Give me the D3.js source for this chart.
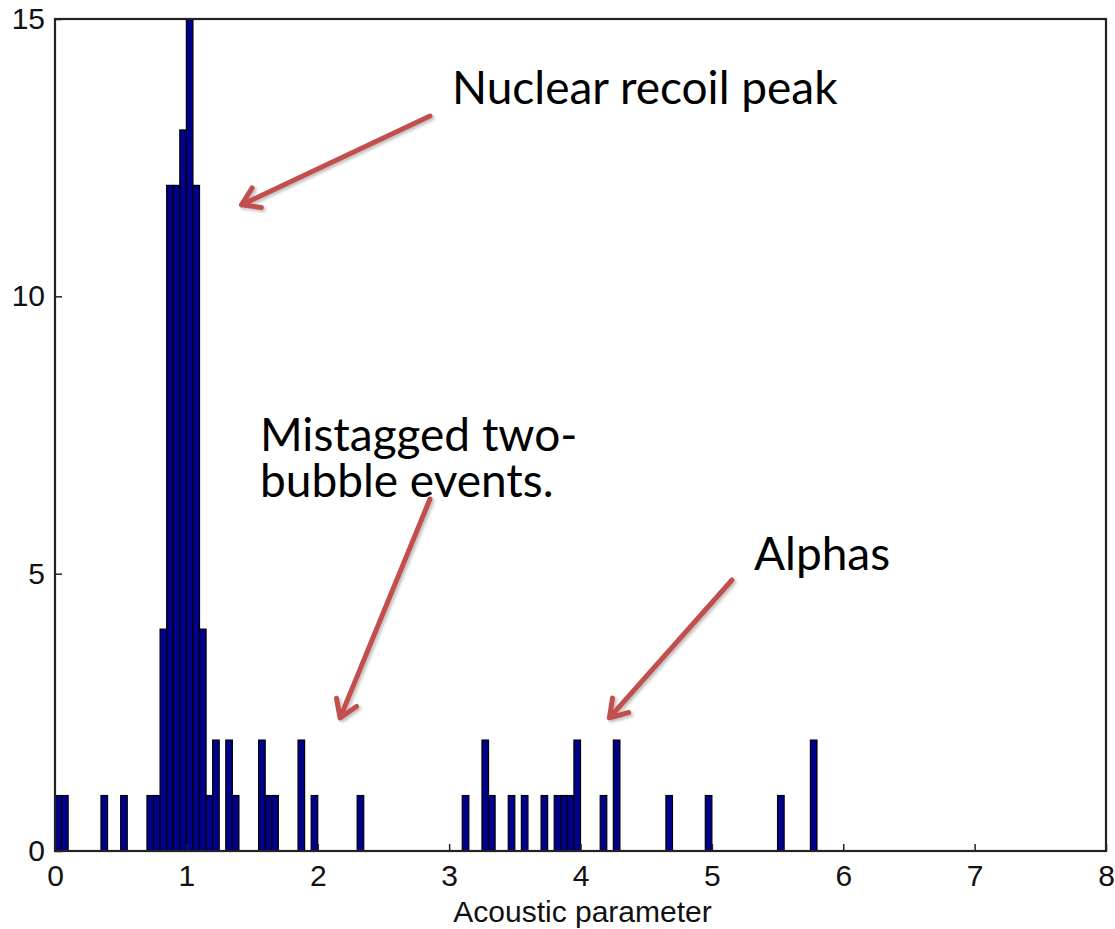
<!DOCTYPE html>
<html>
<head>
<meta charset="utf-8">
<script src="https://cdn.jsdelivr.net/npm/d3@7"></script>
<style>
  html, body { margin: 0; padding: 0; background: #fff; }
  svg { display: block; }
</style>
</head>
<body>
<svg id="chart" width="1115" height="929"></svg>
<script>
// Histogram of the acoustic parameter, 0.05-wide bins (left edge + count)
const binWidth = 0.05;
const binLeft = [0.00, 0.05, 0.35, 0.50, 0.70, 0.75, 0.80, 0.85, 0.90, 0.95,
                 1.00, 1.05, 1.10, 1.15, 1.20, 1.30, 1.35, 1.55, 1.60, 1.65,
                 1.85, 1.95, 2.30, 3.10, 3.25, 3.30, 3.45, 3.55, 3.70, 3.80,
                 3.85, 3.90, 3.95, 4.15, 4.25, 4.65, 4.95, 5.50, 5.75];
const counts  = [1, 1, 1, 1, 1, 1, 4, 12, 12, 13,
                 15, 12, 4, 1, 2, 2, 1, 2, 1, 1,
                 2, 1, 1, 1, 2, 1, 1, 1, 1, 1,
                 1, 1, 2, 1, 2, 1, 1, 1, 2];

const xTicks = [0, 1, 2, 3, 4, 5, 6, 7, 8];
const yTicks = [0, 5, 10, 15];
const xLabel = "Acoustic parameter";

// Callouts: text lines and the point each arrow aims at (data units)
const callouts = [
  { lines: ["Nuclear recoil peak"], textX: 452, textY: 104, from: [430, 116], to: [1.42, 11.65] },
  { lines: ["Mistagged two-", "bubble events."], textX: 260, textY: 451, from: [430, 499], to: [2.17, 2.4] },
  { lines: ["Alphas"], textX: 754, textY: 570, from: [732, 580], to: [4.22, 2.4] }
];

const svg = d3.select("#chart");
const margin = { left: 55, right: 9, top: 19, bottom: 78 };
const W = 1115, H = 929;

const x = d3.scaleLinear().domain([0, 8]).range([margin.left, W - margin.right]);
const y = d3.scaleLinear().domain([0, 15]).range([H - margin.bottom, margin.top]);

const bins = binLeft.map((b, i) => ({ x0: b, x1: b + binWidth, n: counts[i] }));

// Bars
svg.append("g")
  .selectAll("rect")
  .data(bins)
  .join("rect")
  .attr("x", d => x(d.x0))
  .attr("y", d => y(d.n))
  .attr("width", d => x(d.x1) - x(d.x0))
  .attr("height", d => y(0) - y(d.n))
  .attr("fill", "#00008c")
  .attr("stroke", "#000")
  .attr("stroke-width", 1.2);

// Axes with inward ticks
const tickFont = "'Liberation Sans', Arial, sans-serif";
const xAxis = svg.append("g")
  .attr("transform", `translate(0,${y(0)})`)
  .call(d3.axisBottom(x).tickValues(xTicks).tickFormat(d3.format("d")).tickSizeInner(-7).tickSizeOuter(0).tickPadding(14));
const yAxis = svg.append("g")
  .attr("transform", `translate(${x(0)},0)`)
  .call(d3.axisLeft(y).tickValues(yTicks).tickFormat(d3.format("d")).tickSizeInner(-7).tickSizeOuter(0).tickPadding(10));

[xAxis, yAxis].forEach(g => {
  g.select(".domain").remove();
  g.selectAll(".tick line").attr("stroke", "#222").attr("stroke-width", 1.5);
  g.selectAll(".tick text")
    .attr("fill", "#111")
    .style("font-family", tickFont)
    .style("font-size", "30px");
});

// Box around the plot area
svg.append("rect")
  .attr("x", x(0)).attr("y", y(15))
  .attr("width", x(8) - x(0)).attr("height", y(0) - y(15))
  .attr("fill", "none")
  .attr("stroke", "#222")
  .attr("stroke-width", 2.2);

// Axis title
svg.append("text")
  .attr("x", (x(0) + x(8)) / 2 + 2)
  .attr("y", 922)
  .attr("text-anchor", "middle")
  .style("font-family", tickFont)
  .style("font-size", "30px")
  .attr("fill", "#111")
  .text(xLabel);

// Arrow shadow
const defs = svg.append("defs");
const f = defs.append("filter").attr("id", "shadow").attr("x", "-20%").attr("y", "-20%").attr("width", "140%").attr("height", "140%");
f.append("feDropShadow").attr("dx", 2).attr("dy", 2).attr("stdDeviation", 1.5)
  .attr("flood-color", "#000").attr("flood-opacity", 0.25);

// Callout text and arrows
const annoFont = "Lato, 'Open Sans', sans-serif";
callouts.forEach(c => {
  const t = svg.append("text")
    .attr("x", c.textX).attr("y", c.textY)
    .style("font-family", annoFont)
    .style("font-size", "46px")
    .attr("fill", "#000");
  c.lines.forEach((ln, i) => {
    t.append("tspan").attr("x", c.textX).attr("dy", i === 0 ? 0 : 46).text(ln);
  });

  const [x1, y1] = c.from;
  const x2 = x(c.to[0]), y2 = y(c.to[1]);
  const ang = Math.atan2(y2 - y1, x2 - x1);
  const head = 20, spread = Math.PI / 5.5;
  const hx1 = x2 - head * Math.cos(ang - spread), hy1 = y2 - head * Math.sin(ang - spread);
  const hx2 = x2 - head * Math.cos(ang + spread), hy2 = y2 - head * Math.sin(ang + spread);
  const p = d3.path();
  p.moveTo(x1, y1); p.lineTo(x2, y2);
  p.moveTo(hx1, hy1); p.lineTo(x2, y2); p.lineTo(hx2, hy2);
  svg.append("path")
    .attr("d", p.toString())
    .attr("fill", "none")
    .attr("stroke", "#c0504d")
    .attr("stroke-width", 5)
    .attr("stroke-linecap", "round")
    .attr("stroke-linejoin", "round")
    .attr("filter", "url(#shadow)");
});
</script>
</body>
</html>
